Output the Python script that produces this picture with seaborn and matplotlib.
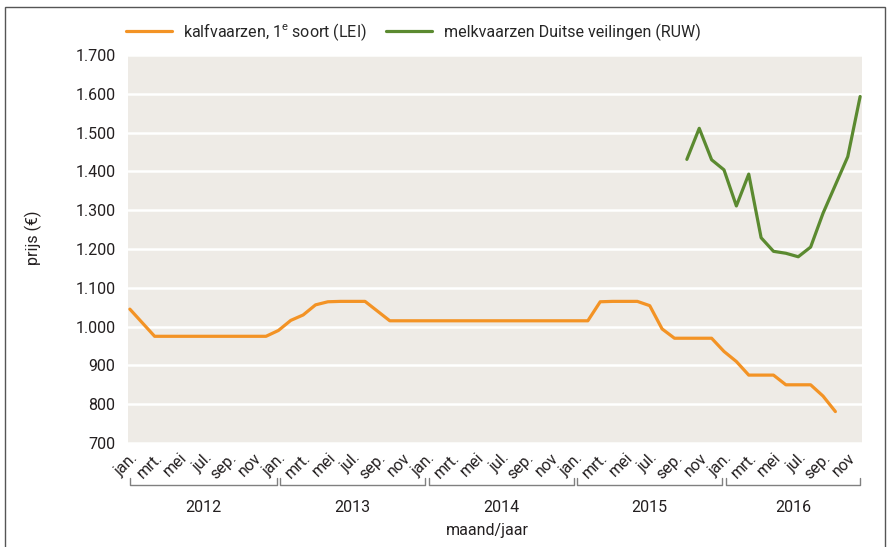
"""
Prijsontwikkeling kalfvaarzen en melkvaarzen, 2012-2016.
"""
import numpy as np
import pandas as pd
import matplotlib
matplotlib.use('Agg')
import matplotlib.pyplot as plt
import matplotlib.transforms as mtrans
from matplotlib.patches import Rectangle
import seaborn as sns

# data: month index 0 = jan 2012 ... 59 = dec 2016
years = ['2012', '2013', '2014', '2015', '2016']
month_labels = ['jan.', 'mrt.', 'mei', 'jul.', 'sep.', 'nov']

kalf_start = 0
kalf = [1045, 1010, 975, 975, 975, 975, 975, 975, 975, 975, 975, 975,
        990, 1016, 1030, 1056, 1064, 1065, 1065, 1065, 1040, 1015, 1015, 1015,
        1015, 1015, 1015, 1015, 1015, 1015, 1015, 1015, 1015, 1015, 1015, 1015,
        1015, 1015, 1064, 1065, 1065, 1065, 1054, 994, 970, 970, 970, 970,
        936, 910, 875, 875, 875, 850, 850, 850, 821, 781]

melk_start = 45
melk = [1431, 1511, 1430, 1404, 1311, 1393, 1229, 1194, 1189, 1180, 1205,
        1292, 1365, 1438, 1593]

name_kalf = r'kalfvaarzen, 1$^{\mathrm{e}}$ soort (LEI)'
name_melk = 'melkvaarzen Duitse veilingen (RUW)'

df = pd.concat([
    pd.DataFrame({'maand': np.arange(kalf_start, kalf_start + len(kalf)),
                  'prijs': kalf, 'reeks': name_kalf}),
    pd.DataFrame({'maand': np.arange(melk_start, melk_start + len(melk)),
                  'prijs': melk, 'reeks': name_melk}),
])

"""
Style
"""
sns.set_style('white', {'axes.facecolor': '#EEEBE6'})
plt.rcParams['font.family'] = ['Roboto', 'DejaVu Sans']
plt.rcParams['mathtext.fontset'] = 'custom'
plt.rcParams['mathtext.rm'] = 'Roboto'
txt = '#231F20'
fs = 11.5

fig = plt.figure(figsize=(8.88, 5.47), dpi=100)
ax = fig.add_axes([128 / 888, 1 - 443 / 547, (862 - 128) / 888, (443 - 55) / 547])

sns.lineplot(data=df, x='maand', y='prijs', hue='reeks',
             palette=['#F39325', '#5B8A30'], linewidth=2.3, ax=ax)

ax.set_xlim(-0.15, 59.15)
ax.set_ylim(700, 1700)
yt = np.arange(700, 1701, 100)
ax.set_yticks(yt)
ax.set_yticklabels([f'{v:,}'.replace(',', '.') for v in yt], fontsize=fs, color=txt)
ax.yaxis.grid(True, color='white', linewidth=1.8)
ax.set_axisbelow(True)
for s in ax.spines.values():
    s.set_visible(False)
ax.tick_params(axis='y', length=0, pad=9)

ax.set_xticks(np.arange(0, 60, 2))
ax.set_xticklabels(month_labels * len(years), rotation=45, ha='right',
                   rotation_mode='anchor', fontsize=fs, color=txt)
ax.set_xticks(np.arange(0, 60), minor=True)
ax.tick_params(axis='x', which='both', direction='in', length=8, width=1.2,
               color='white', pad=5)
ax.set_xlabel('')
ax.set_ylabel('prijs (€)', fontsize=fs, color=txt)
ax.yaxis.set_label_coords(-(128 - 42) / 734, 0.53)

# year brackets
trans = mtrans.blended_transform_factory(ax.transData, ax.transAxes)
for i, yr in enumerate(years):
    x0 = 12 * i + (0.15 if i > 0 else 0)
    x1 = 12 * i + 11.85 if i < len(years) - 1 else 59
    ax.plot([x0, x0, x1, x1], [-0.09, -0.108, -0.108, -0.09], transform=trans,
            color='#808080', linewidth=1, clip_on=False)
    ax.text((x0 + x1) / 2, -0.165, yr, transform=trans, ha='center', va='center',
            fontsize=fs, color=txt)
ax.text(0.49, -0.225, 'maand/jaar', transform=ax.transAxes, ha='center',
        va='center', fontsize=fs, color=txt)

sns.move_legend(ax, 'lower left', bbox_to_anchor=(-0.012, 1.015), ncol=2,
                frameon=False, title=None, fontsize=fs, handlelength=2.9,
                columnspacing=1.2, handletextpad=0.7, borderaxespad=0)

fig.patches.append(Rectangle((0.006, -0.01), 0.991, 0.997, transform=fig.transFigure,
                             fill=False, edgecolor='#555555', linewidth=1))

fig.savefig('out.png', dpi=100)
